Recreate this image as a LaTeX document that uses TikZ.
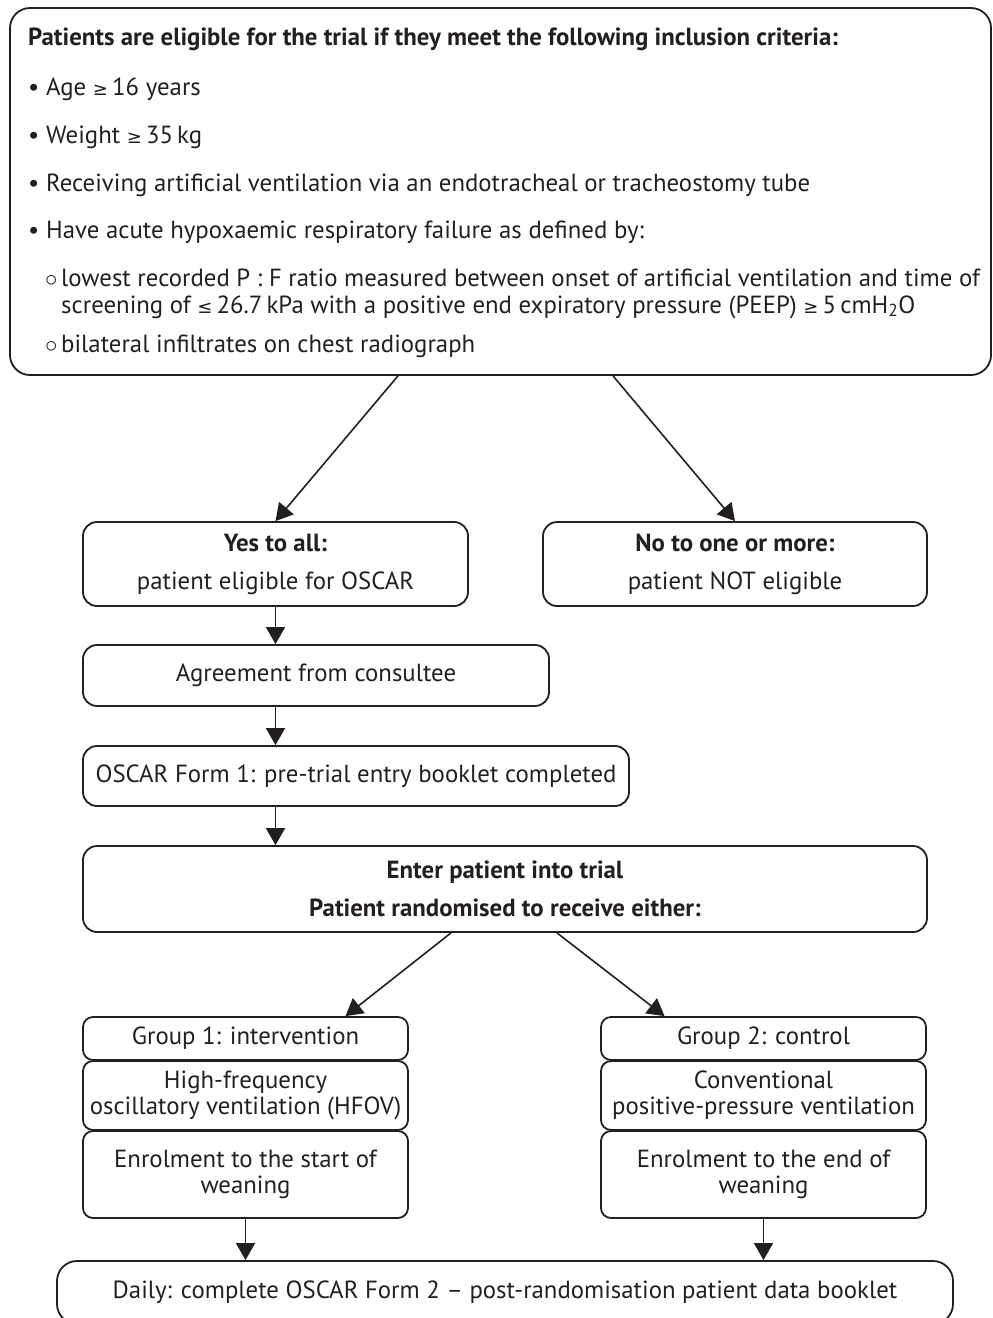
\documentclass[tikz,border=0pt]{standalone}
\usepackage{fontspec}
\setmainfont{PT Sans}
\newfontfamily\symfont{DejaVu Sans}
\newcommand\gesym{{\symfont\fontsize{18}{18}\selectfont ≥}}
\newcommand\lesym{{\symfont\fontsize{18}{18}\selectfont ≤}}
\usetikzlibrary{arrows.meta}
\definecolor{ink}{HTML}{231F20}

\begin{document}
\begin{tikzpicture}[x=1pt,y=-1pt,
  every node/.style={font=\fontsize{24.8}{27}\selectfont, text=ink},
  box/.style={draw=ink, line width=1.8pt, rounded corners=14pt, inner sep=0pt, align=center},
  smallbox/.style={box, rounded corners=10pt, minimum width=325pt},
  line/.style={anchor=base west, inner sep=0pt},
  arr/.style={draw=ink, line width=1.6pt, -{Triangle[length=17pt,width=19pt]}},
]
\useasboundingbox (0,0) rectangle (993,1318);

% inclusion criteria
\node[box, rounded corners=20pt, minimum width=981pt, minimum height=367pt] (top) at (500.5,191.5) {};
\node[line] (head) at (28,45) {\bfseries Patients are eligible for the trial if they meet the following inclusion criteria:};
\node[line] (c1) at (28,95) {\makebox[18pt][l]{\textbullet}Age \gesym\,16 years};
\node[line] (c2) at (28,143) {\makebox[18pt][l]{\textbullet}Weight \gesym\,35\,kg};
\node[line] (c3) at (28,191) {\makebox[18pt][l]{\textbullet}Receiving artificial ventilation via an endotracheal or tracheostomy tube};
\node[line] (c4) at (28,238) {\makebox[18pt][l]{\textbullet}Have acute hypoxaemic respiratory failure as defined by:};
\node[line] (s1) at (45,286) {\makebox[16pt][l]{$\circ$}lowest recorded P : F ratio measured between onset of artificial ventilation and time of};
\node[line] (s1b) at (61,313) {screening of \lesym\,26.7\,kPa with a positive end expiratory pressure (PEEP) \gesym\,5\,cmH\textsubscript{2}O};
\node[line] (s2) at (45,352) {\makebox[16pt][l]{$\circ$}bilateral infiltrates on chest radiograph};

% eligibility outcome
\node[box, minimum width=385pt, minimum height=84pt] (yes) at (275.5,564)
  {\textbf{Yes to all:}\\[11pt]patient eligible for OSCAR};
\node[box, minimum width=384pt, minimum height=84pt] (no) at (735,564)
  {\textbf{No to one or more:}\\[11pt]patient NOT eligible};

% enrolment steps
\node[box, minimum width=466pt, minimum height=61pt] (agree) at (316,675.5) {Agreement from consultee};
\node[box, minimum width=546pt, minimum height=60pt] (form1) at (356,776) {OSCAR Form 1: pre-trial entry booklet completed};
\node[box, minimum width=844pt, minimum height=86pt] (enter) at (505,889)
  {\textbf{Enter patient into trial}\\[11pt]\textbf{Patient randomised to receive either:}};

% group 1
\node[smallbox, minimum height=43pt] (g1) at (245.5,1038.5) {Group 1: intervention};
\node[smallbox, minimum height=69pt] (hfov) at (245.5,1095.5) {High-frequency\\[-1pt]oscillatory ventilation (HFOV)};
\node[smallbox, minimum height=87pt] (enr1) at (245.5,1174.5) {Enrolment to the start of\\[-1pt]weaning};

% group 2
\node[smallbox, minimum height=43pt] (g2) at (763.5,1038.5) {Group 2: control};
\node[smallbox, minimum height=69pt] (cppv) at (763.5,1095.5) {Conventional\\[-1pt]positive-pressure ventilation};
\node[smallbox, minimum height=87pt] (enr2) at (763.5,1174.5) {Enrolment to the end of\\[-1pt]weaning};

% daily data collection
\node[box, rounded corners=20pt, minimum width=896pt, minimum height=63pt] (daily) at (505,1292.5)
  {Daily: complete OSCAR Form 2 -- post-randomisation patient data booklet};

% connectors
\draw[arr] ([xshift=-102.5pt]top.south) -- (yes.north);
\draw[arr] ([xshift=112.5pt]top.south) -- (no.north);
\draw[arr] (yes.south) -- (yes.south |- agree.north);
\draw[arr] (yes.south |- agree.south) -- (yes.south |- form1.north);
\draw[arr] (yes.south |- form1.south) -- (yes.south |- enter.north);
\draw[arr] ([xshift=-54pt]enter.south) -- ([xshift=100pt]g1.north);
\draw[arr] ([xshift=52pt]enter.south) -- ([xshift=-99pt]g2.north);
\draw[arr] (enr1.south) -- (enr1.south |- daily.north);
\draw[arr] (enr2.south) -- (enr2.south |- daily.north);
\end{tikzpicture}
\end{document}
